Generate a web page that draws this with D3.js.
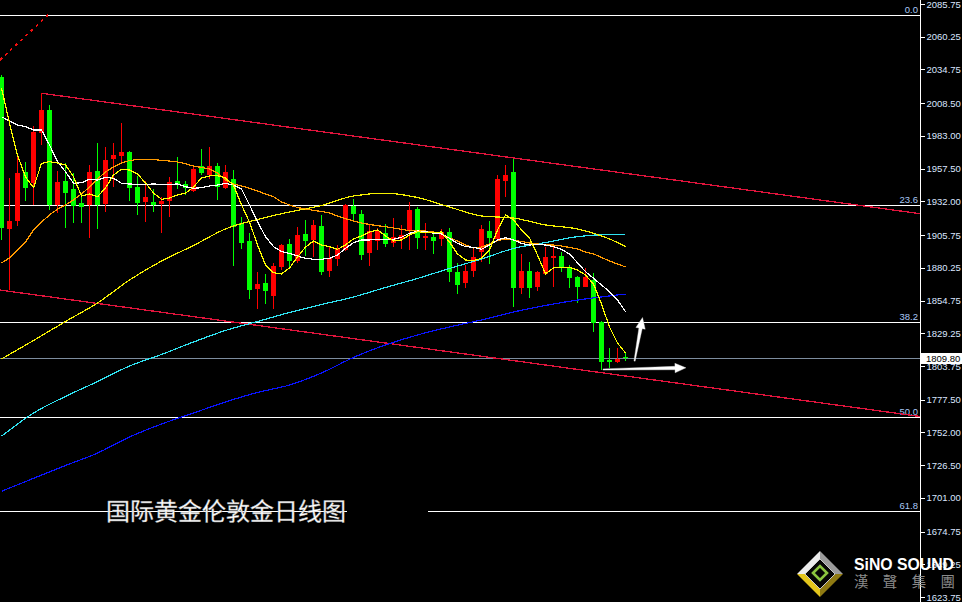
<!DOCTYPE html>
<html>
<head>
<meta charset="utf-8">
<script src="https://cdn.jsdelivr.net/npm/d3@7"></script>
<style>
  html, body { margin: 0; padding: 0; background: #000; overflow: hidden; }
  svg { display: block; }
</style>
</head>
<body>
<svg id="chart" width="962" height="602"></svg>
<script>
// Daily gold (XAU/USD) bars, oldest first
const open = [
  2029.1, 1910.5, 1916.7, 1955.1, 1946.1, 1985.0, 2003.2, 1929.2, 1947.9, 1941.6,
  1930.5, 1929.2, 1955.6, 1929.9, 1965.0, 1967.3, 1970.2, 1943.4, 1931.7, 1931.5,
  1929.9, 1932.5, 1947.9, 1945.3, 1940.3, 1959.5, 1952.5, 1959.5, 1942.6, 1949.4,
  1914.9, 1901.1, 1863.5, 1868.6, 1858.5, 1881.1, 1898.5, 1885.5, 1906.6, 1901.9,
  1912.8, 1877.7, 1886.9, 1894.1, 1928.4, 1922.1, 1892.0, 1901.1, 1907.6, 1899.8,
  1902.4, 1908.9, 1926.0, 1904.0, 1904.5, 1902.4, 1908.4, 1877.2, 1868.6, 1877.5,
  1892.8, 1908.9, 1902.4, 1948.1, 1954.9, 1864.7, 1878.0, 1865.5, 1875.4, 1888.1,
  1889.4, 1881.1, 1873.3, 1865.5, 1870.7, 1838.2, 1808.4, 1807.1, 1811.0
];
const high = [
  2030.4, 1950.0, 1966.8, 1962.9, 1990.9, 2016.2, 2007.1, 1955.6, 1961.6, 1953.9,
  1938.5, 1960.3, 1977.2, 1974.1, 1977.2, 1992.8, 1971.6, 1951.8, 1948.1, 1941.4,
  1935.4, 1950.7, 1966.3, 1948.1, 1959.0, 1972.6, 1974.1, 1962.1, 1960.3, 1956.4,
  1920.0, 1907.1, 1877.0, 1875.4, 1883.7, 1898.8, 1902.4, 1911.8, 1917.5, 1917.5,
  1921.4, 1896.7, 1898.0, 1929.9, 1933.8, 1925.3, 1914.4, 1911.5, 1914.4, 1918.8,
  1913.6, 1931.3, 1927.4, 1914.9, 1909.1, 1910.2, 1911.5, 1884.2, 1882.4, 1894.5,
  1913.6, 1916.9, 1952.5, 1960.3, 1964.8, 1891.0, 1885.0, 1878.0, 1896.7, 1896.7,
  1892.3, 1882.4, 1874.1, 1879.8, 1875.9, 1839.0, 1817.5, 1817.5, 1813.6
];
const low = [
  1901.9, 1862.9, 1913.0, 1932.5, 1929.2, 1975.9, 1925.3, 1922.9, 1911.0, 1914.9,
  1915.1, 1903.2, 1910.2, 1923.5, 1943.4, 1962.9, 1932.5, 1921.4, 1916.2, 1923.9,
  1907.1, 1920.0, 1941.4, 1937.0, 1939.5, 1952.5, 1949.2, 1933.1, 1942.0, 1881.9,
  1894.6, 1855.7, 1848.4, 1852.0, 1848.1, 1878.5, 1881.1, 1884.2, 1889.4, 1888.9,
  1874.6, 1872.8, 1881.6, 1893.7, 1917.5, 1886.3, 1881.6, 1894.1, 1896.7, 1896.7,
  1894.6, 1894.1, 1894.6, 1894.1, 1891.0, 1897.2, 1869.4, 1859.8, 1864.3, 1873.3,
  1885.0, 1883.0, 1901.9, 1935.6, 1849.9, 1859.8, 1856.5, 1862.4, 1875.0, 1865.0,
  1877.2, 1864.3, 1852.6, 1865.0, 1830.4, 1800.6, 1801.9, 1805.8, 1807.6
];
const close = [
  1911.0, 1916.7, 1954.3, 1942.6, 1986.3, 2003.2, 1929.2, 1947.1, 1938.3, 1928.6,
  1927.8, 1954.6, 1929.2, 1964.2, 1968.1, 1970.7, 1942.2, 1930.5, 1935.6, 1929.2,
  1932.5, 1946.8, 1945.3, 1942.2, 1957.2, 1954.3, 1959.5, 1943.4, 1955.1, 1912.3,
  1899.8, 1862.9, 1867.6, 1862.4, 1881.6, 1898.0, 1885.8, 1905.8, 1901.1, 1913.6,
  1877.2, 1888.1, 1894.6, 1929.2, 1921.9, 1890.2, 1909.1, 1908.9, 1898.8, 1904.0,
  1905.8, 1925.3, 1903.7, 1905.0, 1901.3, 1908.4, 1877.2, 1866.8, 1877.7, 1888.4,
  1910.2, 1903.2, 1949.4, 1952.5, 1864.3, 1878.0, 1864.7, 1876.7, 1888.9, 1889.4,
  1880.6, 1872.5, 1865.5, 1873.3, 1837.0, 1807.1, 1807.1, 1809.2, 1809.8
];

// Moving averages, one value per bar
const ma5 = [
  2020.3, 1993.0, 1968.1, 1951.0, 1942.6, 1961.6, 1962.9, 1961.9, 1960.3, 1951.2,
  1936.2, 1937.7, 1935.6, 1942.4, 1952.5, 1957.0, 1956.4, 1953.3, 1946.3, 1938.5,
  1933.6, 1934.6, 1937.0, 1938.3, 1943.2, 1950.2, 1951.8, 1952.0, 1950.2, 1944.7,
  1929.2, 1915.9, 1898.0, 1882.4, 1876.4, 1875.4, 1880.1, 1888.6, 1896.4, 1901.1,
  1898.0, 1896.7, 1894.6, 1898.0, 1902.7, 1905.0, 1908.1, 1909.7, 1905.0, 1901.1,
  1901.9, 1905.8, 1908.4, 1907.6, 1907.6, 1908.1, 1900.3, 1891.0, 1886.3, 1885.9,
  1887.6, 1894.1, 1909.7, 1921.4, 1917.5, 1909.7, 1903.5, 1890.2, 1875.4, 1880.1,
  1880.6, 1880.6, 1878.5, 1874.6, 1867.6, 1852.0, 1834.1, 1821.6, 1813.9
];
const ma10 = [
  1997.9, 1994.6, 1991.5, 1990.2, 1987.6, 1987.6, 1975.9, 1962.9, 1955.1, 1946.1,
  1946.5, 1949.2, 1948.6, 1950.7, 1950.0, 1946.1, 1945.5, 1945.3, 1945.3, 1945.5,
  1945.3, 1945.3, 1945.5, 1943.4, 1942.2, 1942.6, 1944.0, 1944.7, 1946.1, 1944.7,
  1941.6, 1929.2, 1916.2, 1904.5, 1896.7, 1892.8, 1891.5, 1889.4, 1887.6, 1886.9,
  1886.9, 1887.6, 1890.2, 1895.4, 1899.8, 1901.9, 1901.9, 1902.4, 1902.4, 1902.4,
  1904.0, 1907.1, 1908.9, 1908.4, 1907.1, 1906.6, 1903.2, 1899.3, 1896.7, 1896.2,
  1894.6, 1898.0, 1901.9, 1903.7, 1901.9, 1899.3, 1898.0, 1898.5, 1898.0, 1896.7,
  1894.6, 1891.0, 1884.2, 1877.2, 1872.1, 1866.8, 1861.6, 1855.1, 1846.0
];
const ma20 = [
  1884.0, 1887.9, 1894.1, 1900.3, 1909.7, 1915.9, 1921.4, 1926.0, 1929.2, 1933.1,
  1937.7, 1943.2, 1949.4, 1954.9, 1958.8, 1961.9, 1963.8, 1964.6, 1964.8, 1964.5,
  1964.0, 1963.4, 1962.7, 1961.3, 1959.5, 1958.4, 1957.2, 1954.1, 1948.6, 1945.5,
  1944.0, 1942.2, 1940.1, 1937.7, 1935.6, 1931.5, 1929.2, 1927.2, 1926.0, 1925.0,
  1924.1, 1922.9, 1920.6, 1918.5, 1916.7, 1915.1, 1914.0, 1913.0, 1912.3, 1911.2,
  1910.2, 1909.1, 1908.9, 1908.9, 1908.1, 1906.6, 1903.5, 1901.1, 1898.0, 1895.7,
  1896.4, 1898.8, 1901.5, 1902.7, 1901.9, 1900.7, 1899.6, 1898.8, 1898.2, 1898.0,
  1897.2, 1896.1, 1894.9, 1892.5, 1891.0, 1888.3, 1885.5, 1883.2, 1880.9
];

// Slow averages, read every fourth bar
const slowBars = [0, 4, 8, 12, 16, 20, 24, 28, 32, 36, 40, 44, 48, 52, 56, 60, 64, 68, 72, 76, 78];
const ma60 = [1809.2, 1823.6, 1838.4, 1852.8, 1870.7, 1885.5, 1897.6, 1910.5, 1917.9, 1923.7, 1928.8,
              1936.2, 1938.3, 1935.0, 1927.6, 1920.6, 1919.0, 1913.6, 1910.5, 1902.7, 1896.8];
const ma100 = [1749.0, 1767.1, 1780.0, 1791.6, 1803.7, 1812.7, 1822.4, 1831.4, 1838.4, 1845.4, 1851.6,
               1857.5, 1864.9, 1871.9, 1879.7, 1887.1, 1895.3, 1899.9, 1904.5, 1906.2, 1906.3];
const ma200 = [1706.1, 1716.2, 1726.2, 1735.9, 1748.4, 1758.5, 1767.1, 1775.7, 1783.1, 1788.9, 1798.3,
               1810.4, 1820.1, 1827.9, 1834.1, 1839.6, 1845.8, 1850.9, 1855.1, 1858.3, 1859.8];

// Price scale labels
const priceTicks = [2085.75, 2060.25, 2034.75, 2008.50, 1983.00, 1957.50, 1932.00, 1905.75, 1880.25,
                    1854.75, 1829.25, 1803.75, 1777.50, 1752.00, 1726.50, 1701.00, 1674.75, 1649.25, 1623.75];

// Fibonacci retracement levels
const fibLabels = ["0.0", "23.6", "38.2", "50.0", "61.8"];
const fibPrices = [2077.0, 1929.4, 1838.0, 1764.2, 1690.4];

const lastPrice = 1809.80;

// Trend objects as [bar, price] anchors
const channelUpper = [[5, 2016.2], [114.81, 1922.4]];
const channelLower = [[-0.19, 1862.9], [114.81, 1764.4]];
const dashedTrend = [[-0.19, 2042.1], [5.81, 2077.2]];
const arrowFrom = [[75.19, 1801.0], [79.13, 1807.6]];
const arrowTo = [[85.56, 1802.3], [80.13, 1841.5]];

const title = "国际黄金伦敦金日线图";

// ---------------------------------------------------------------
const W = 962, H = 602, axisX = 920;
const svg = d3.select("#chart");

const x = d3.scaleLinear().domain([0, 78]).range([1.5, 625.5]);
const y = d3.scaleLinear().domain([2085.75, 1623.75]).range([4, 597]);
const py = v => Math.round(y(v)) + 0.5;

svg.append("rect").attr("width", W).attr("height", H).attr("fill", "#000");

svg.append("defs").append("clipPath").attr("id", "plot")
  .append("rect").attr("x", 0).attr("y", 0).attr("width", axisX).attr("height", H);

const plot = svg.append("g").attr("clip-path", "url(#plot)");

// Fibonacci levels (the 61.8 line is interrupted right of the caption)
const gapBars = [43.2, 53.3];
fibPrices.forEach((p, k) => {
  const yy = py(p);
  const segs = fibLabels[k] === "61.8" ? [[0, x(gapBars[0])], [x(gapBars[1]), axisX]] : [[0, axisX]];
  segs.forEach(s => plot.append("line")
    .attr("x1", s[0]).attr("x2", s[1]).attr("y1", yy).attr("y2", yy)
    .attr("stroke", "#fff").attr("stroke-width", 1).attr("shape-rendering", "crispEdges"));
  plot.append("text")
    .attr("x", axisX - 2).attr("y", yy - 2.5)
    .attr("text-anchor", "end")
    .attr("font-family", "Liberation Sans, Arial, sans-serif")
    .attr("font-size", 9.5)
    .attr("fill", "#a9c8f5")
    .text(fibLabels[k]);
});

// Current price line
plot.append("line")
  .attr("x1", 0).attr("x2", axisX).attr("y1", py(lastPrice)).attr("y2", py(lastPrice))
  .attr("stroke", "#7d8c9e").attr("stroke-width", 1).attr("shape-rendering", "crispEdges");

// Channel and trend lines
const seg = d3.line().x(d => x(d[0])).y(d => y(d[1]));
[channelUpper, channelLower].forEach(c => plot.append("path")
  .attr("d", seg(c)).attr("fill", "none")
  .attr("stroke", "#e0143c").attr("stroke-width", 1.3).attr("shape-rendering", "crispEdges"));
plot.append("path").attr("d", seg(dashedTrend)).attr("fill", "none")
  .attr("stroke", "#f01010").attr("stroke-width", 1.6).attr("stroke-dasharray", "3,4")
  .attr("shape-rendering", "crispEdges");

// Candles: red = up day, green = down day
const bars = d3.range(open.length);
const cg = plot.append("g").attr("shape-rendering", "crispEdges");
cg.selectAll("rect.wick").data(bars).join("rect")
  .attr("class", "wick")
  .attr("x", i => x(i) - 0.5).attr("width", 1)
  .attr("y", i => y(high[i])).attr("height", i => Math.max(1, y(low[i]) - y(high[i])))
  .attr("fill", i => close[i] >= open[i] ? "#ff0000" : "#00ff00");
cg.selectAll("rect.body").data(bars).join("rect")
  .attr("class", "body")
  .attr("x", i => x(i) - 2.5).attr("width", 5)
  .attr("y", i => y(Math.max(open[i], close[i])))
  .attr("height", i => Math.max(1.5, Math.abs(y(open[i]) - y(close[i]))))
  .attr("fill", i => close[i] >= open[i] ? "#ff0000" : "#00ff00");

// Moving averages
const maLine = d3.line().x((d, i) => x(i)).y(d => y(d));
const slowLine = d3.line().x(d => x(d[0])).y(d => y(d[1])).curve(d3.curveMonotoneX);
const drawMA = (d, color) => plot.append("path").attr("d", d).attr("fill", "none")
  .attr("stroke", color).attr("stroke-width", 1.2).attr("stroke-linejoin", "round")
  .attr("shape-rendering", "crispEdges");
drawMA(slowLine(d3.zip(slowBars, ma200)), "#0a14ff");
drawMA(slowLine(d3.zip(slowBars, ma100)), "#2fe3f2");
drawMA(slowLine(d3.zip(slowBars, ma60)), "#f5f000");
drawMA(maLine(ma20), "#ff9a00");
drawMA(maLine(ma10), "#ffffff");
drawMA(maLine(ma5), "#ffff00");

// Arrows
function arrowPath(x0, y0, x1, y1, tailW, neckW, headLen, headW) {
  const dx = x1 - x0, dy = y1 - y0, L = Math.hypot(dx, dy);
  const ux = dx / L, uy = dy / L, nx = -uy, ny = ux;
  const bx = x1 - ux * headLen, by = y1 - uy * headLen;
  const pts = [
    [x0 + nx * tailW / 2, y0 + ny * tailW / 2],
    [bx + nx * neckW / 2, by + ny * neckW / 2],
    [bx + nx * headW / 2, by + ny * headW / 2],
    [x1, y1],
    [bx - nx * headW / 2, by - ny * headW / 2],
    [bx - nx * neckW / 2, by - ny * neckW / 2],
    [x0 - nx * tailW / 2, y0 - ny * tailW / 2]
  ];
  return "M" + pts.map(p => p[0].toFixed(2) + "," + p[1].toFixed(2)).join("L") + "Z";
}
arrowFrom.forEach((f, k) => {
  const t = arrowTo[k];
  plot.append("path")
    .attr("d", arrowPath(x(f[0]), y(f[1]), x(t[0]), y(t[1]), 1.2, 3.4, 11, 9.5))
    .attr("fill", "#ffffff").attr("stroke", "#d8d8d8").attr("stroke-width", 0.4);
});

// Price axis
svg.append("line").attr("x1", axisX + 0.5).attr("x2", axisX + 0.5).attr("y1", 0).attr("y2", H)
  .attr("stroke", "#fff").attr("stroke-width", 1).attr("shape-rendering", "crispEdges");
const axis = svg.append("g").attr("transform", `translate(${axisX + 0.5},0)`)
  .call(d3.axisRight(y).tickValues(priceTicks).tickFormat(d3.format(".2f")).tickSize(4).tickPadding(2));
axis.select(".domain").remove();
axis.selectAll(".tick line").attr("stroke", "#fff").attr("shape-rendering", "crispEdges");
axis.selectAll(".tick text")
  .attr("fill", "#dbe6ff")
  .attr("font-family", "Liberation Sans, Arial, sans-serif")
  .attr("font-size", 9.5);

// Current price tag
const tagY = y(lastPrice);
svg.append("rect").attr("x", axisX + 1).attr("y", Math.round(tagY) - 5).attr("width", W - axisX - 1).attr("height", 11)
  .attr("fill", "#fff");
svg.append("text").attr("x", axisX + 6).attr("y", tagY).attr("dy", "0.35em")
  .attr("font-family", "Liberation Sans, Arial, sans-serif").attr("font-size", 9.5).attr("fill", "#000")
  .text(d3.format(".2f")(lastPrice));

// Caption
svg.append("text")
  .attr("x", 106).attr("y", 520)
  .attr("font-family", "Noto Sans CJK SC, sans-serif")
  .attr("font-size", 24)
  .attr("fill", "#ffffff")
  .attr("stroke", "#9a9a9a").attr("stroke-width", 0.4)
  .text(title);

// Brand mark
const logo = svg.append("g");
const lx = 820, ly = 574, R = 23, r = 15;
const poly = (pts, fill) => logo.append("path").attr("d", "M" + pts.map(p => p.join(",")).join("L") + "Z").attr("fill", fill);
poly([[lx - R, ly], [lx, ly - R], [lx, ly - r], [lx - r, ly]], "#ececec");
poly([[lx, ly - R], [lx + R, ly], [lx + r, ly], [lx, ly - r]], "#9c9c9c");
poly([[lx + R, ly], [lx, ly + R], [lx, ly + r], [lx + r, ly]], "#8f7a12");
poly([[lx, ly + R], [lx - R, ly], [lx - r, ly], [lx, ly + r]], "#e3c51c");
logo.append("path")
  .attr("d", `M${lx - r},${ly}L${lx},${ly - r}L${lx + r},${ly}L${lx},${ly + r}Z`)
  .attr("fill", "#050505").attr("stroke", "#c9c9c9").attr("stroke-width", 1);
logo.append("path")
  .attr("d", `M${lx - 7},${ly - 1}L${lx},${ly - 8}L${lx + 7},${ly - 1}L${lx},${ly + 6}Z`)
  .attr("fill", "none").attr("stroke", "#8cc63f").attr("stroke-width", 2.6);
logo.append("text")
  .attr("x", 854).attr("y", 570)
  .attr("font-family", "Liberation Sans, Arial, sans-serif").attr("font-weight", "bold")
  .attr("font-size", 17).attr("fill", "#ffffff")
  .attr("textLength", 100).attr("lengthAdjust", "spacingAndGlyphs")
  .text("SiNO SOUND");
logo.append("text")
  .attr("x", 854).attr("y", 587)
  .attr("font-family", "Noto Sans CJK TC, sans-serif")
  .attr("font-size", 14.5).attr("fill", "#8a8a8a")
  .attr("textLength", 101).attr("lengthAdjust", "spacing")
  .text("漢聲集團");
</script>
</body>
</html>
